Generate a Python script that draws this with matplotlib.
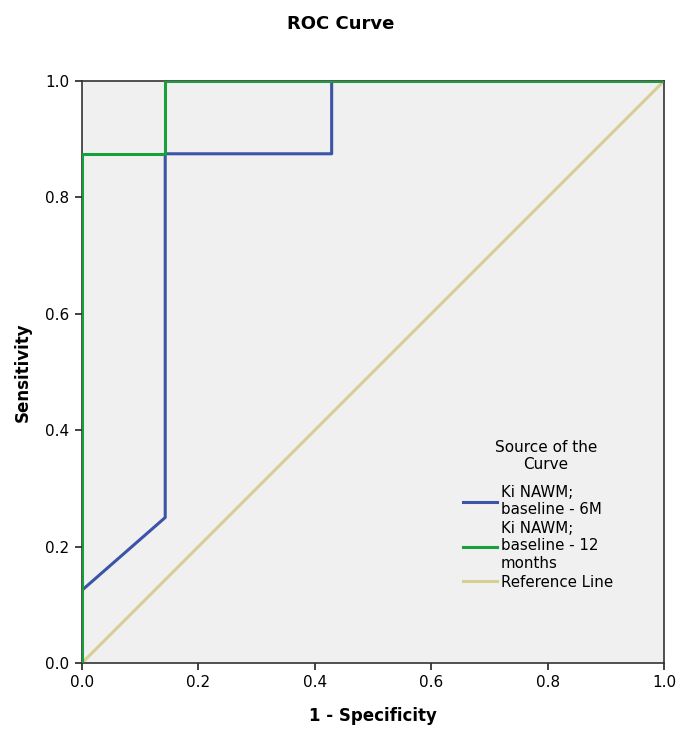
import numpy as np
import matplotlib.pyplot as plt

# ROC points
fpr_6m = [0.0, 0.0, 0.143, 0.143, 0.429, 0.429, 1.0]
tpr_6m = [0.0, 0.125, 0.25, 0.875, 0.875, 1.0, 1.0]
fpr_12m = [0.0, 0.0, 0.143, 0.143, 1.0]
tpr_12m = [0.0, 0.875, 0.875, 1.0, 1.0]
ref_line = [0.0, 1.0]

ticks = [0.0, 0.2, 0.4, 0.6, 0.8, 1.0]

fig = plt.figure(figsize=(6.81, 7.30), dpi=100)
ax = fig.add_axes([0.1204, 0.0918, 0.8546, 0.7972])
ax.set_facecolor('#f0f0f0')

ax.plot(fpr_6m, tpr_6m, color='#3a54a6', lw=2.2, label='Ki NAWM;\nbaseline - 6M', zorder=3)
ax.plot(fpr_12m, tpr_12m, color='#17a03c', lw=2.2, label='Ki NAWM;\nbaseline - 12\nmonths', zorder=4)
ax.plot(ref_line, ref_line, color='#d9cd94', lw=2.2, label='Reference Line', zorder=2)

ax.set_xlim(0, 1)
ax.set_ylim(0, 1)
ax.set_xticks(ticks)
ax.set_yticks(ticks)
ax.set_xticklabels([f'{t:.1f}' for t in ticks])
ax.set_yticklabels([f'{t:.1f}' for t in ticks])
ax.tick_params(labelsize=11, length=5, width=1.2, color='#222222', pad=4)
for s in ax.spines.values():
    s.set_color('#333333')
    s.set_linewidth(1.2)

ax.set_xlabel('1 - Specificity', fontsize=12, fontweight='bold', labelpad=12)
ax.set_ylabel('Sensitivity', fontsize=12, fontweight='bold', labelpad=10)
fig.suptitle('ROC Curve', fontsize=13, fontweight='bold', y=0.98)

# legend title drawn separately so it sits centred over the entries
ax.text(0.797, 0.356, 'Source of the\nCurve', transform=ax.transAxes, ha='center',
        va='center', fontsize=11, multialignment='center')
ax.legend(loc='upper left', bbox_to_anchor=(0.655, 0.306), borderaxespad=0, borderpad=0,
          frameon=False, fontsize=10.8, handlelength=2.25,
          handletextpad=0.25, labelspacing=0.25)

fig.savefig('out.png', dpi=100)
